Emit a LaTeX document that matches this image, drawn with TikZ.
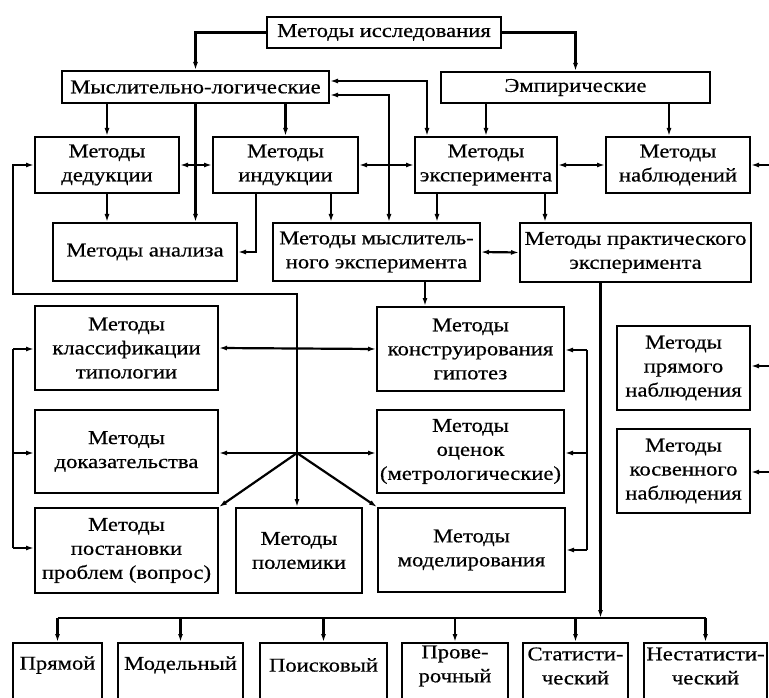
\documentclass[tikz,border=0pt]{standalone}
\usepackage{fontspec}
\setmainfont{Liberation Serif}[FakeStretch=1.16,FakeBold=0.5]
\usetikzlibrary{arrows.meta}
\newcommand\mybox[6]{\node[box, minimum width={(#4-#2)*1pt}, minimum height={(#5-#3)*1pt}] (#1) at ({(#2+#4)/2},{(#3+#5)/2}) {#6};}
\begin{document}
\begin{tikzpicture}[x=1pt,y=-1pt,
 box/.style={draw, line width=2pt, inner sep=0pt, align=center, font=\fontsize{19.5pt}{24pt}\selectfont},
 tx/.style={inner sep=0pt, align=center, font=\fontsize{19.5pt}{24pt}\selectfont},
 arr/.style={line width=2.2pt, -{Latex[length=8pt,width=5pt]}},
 dbl/.style={line width=2.2pt, {Latex[length=8pt,width=5pt]}-{Latex[length=8pt,width=5pt]}},
 ln/.style={line width=2.2pt}]
\useasboundingbox (0,0) rectangle (769,698);
\clip (0,0) rectangle (769,698);
\fill[white] (0,0) rectangle (769,698);
% boxes
\mybox{top}{267}{17}{501}{48}{Методы исследования}
\mybox{ml}{62}{71}{329}{103}{Мыслительно-логические}
\mybox{emp}{441}{72}{710}{103}{Эмпирические}
\mybox{ded}{35}{137}{179}{193}{Методы\\дедукции}
\mybox{ind}{213}{137}{358}{193}{Методы\\индукции}
\mybox{exp}{415}{137}{557}{193}{Методы\\эксперимента}
\mybox{nab}{606}{137}{750}{193}{Методы\\наблюдений}
\mybox{an}{53}{223}{237}{281}{Методы анализа}
\mybox{mys}{273}{223}{480}{281}{Методы мыслитель-\\ного эксперимента}
\mybox{pr}{520}{223}{751}{282}{Методы практического\\эксперимента}
\mybox{cls}{35}{306}{218}{390}{Методы\\классификации\\типологии}
\mybox{dok}{35}{410}{218}{493}{Методы\\доказательства}
\mybox{pos}{35}{508}{218}{593}{Методы\\постановки\\проблем (вопрос)}
\mybox{pol}{236}{508}{362}{593}{Методы\\полемики}
\mybox{kon}{377}{307}{564}{391}{Методы\\конструирования\\гипотез}
\mybox{oc}{377}{410}{564}{493}{Методы\\оценок\\(метрологические)}
\mybox{mod}{378}{508}{565}{592}{Методы\\моделирования}
\mybox{pn}{617}{326}{750}{410}{Методы\\прямого\\наблюдения}
\mybox{kn}{617}{429}{750}{513}{Методы\\косвенного\\наблюдения}
\mybox{b1}{13}{643}{102}{712}{}
\mybox{b2}{118}{643}{243}{712}{}
\mybox{b3}{260}{643}{387}{712}{}
\mybox{b4}{402}{643}{508}{712}{}
\mybox{b5}{523}{643}{628}{712}{}
\mybox{b6}{644}{643}{767}{712}{}
\path (b1.north) ++(0,23) node[tx] (t1) {Прямой};
\path (b2.north) ++(0,23) node[tx] (t2) {Модельный};
\path (b3.north) ++(0,23) node[tx] (t3) {Поисковый};
\path (b4.north) ++(0,24) node[tx] (t4) {Прове-\\рочный};
\path (b5.north) ++(0,24) node[tx] (t5) {Статисти-\\ческий};
\path (b6.north) ++(0,24) node[tx] (t6) {Нестатисти-\\ческий};
% connectors
\draw[arr] (top.west) -| (ml.north);
\draw[arr] (top.east) -| (emp.north);
\draw[arr] (ml.south -| ded.north) -- (ded.north);
\draw[arr] (ml.south -| ind.north) -- (ind.north);
\draw[arr] (ml.south) -- (ml.south |- an.north);
\draw[arr] (emp.south -| exp.north) -- (exp.north);
\draw[arr] ([xshift=-9pt]nab.north |- emp.south) -- ([xshift=-9pt]nab.north);
\draw[dbl] ([yshift=6pt]ml.east) -| ([xshift=-59pt]exp.north);
\draw[dbl] ([yshift=-8pt]ml.east) -| ([xshift=12.5pt]mys.north);
\draw[dbl] (ded.east) -- (ind.west);
\draw[dbl] (ind.east) -- (exp.west);
\draw[dbl] (exp.east) -- (nab.west);
\coordinate (e1) at (769,165);
\draw[arr] (e1) -- (nab.east);
\draw[arr] (ded.south) -- (ded.south |- an.north);
\draw[arr] ([xshift=-29.5pt]ind.south) |- (an.east);
\draw[arr] ([xshift=45.5pt]ind.south) -- ([xshift=45.5pt]ind.south |- mys.north);
\draw[arr] ([xshift=-49pt]exp.south) -- ([xshift=-49pt]exp.south |- mys.north);
\draw[arr] ([xshift=59pt]exp.south) -- ([xshift=59pt]exp.south |- pr.north);
\draw[dbl] (mys.east) -- (pr.west);
\draw[arr] ([xshift=48.5pt]mys.south) -- ([xshift=48.5pt]mys.south |- kon.north);
\coordinate (hub) at (297,453);
\coordinate (lp) at (13,294);
\draw[arr] (hub) -- (hub |- lp) -- (lp) |- (ded.west);
\draw[arr] (hub) -- (hub |- pol.north);
\draw[arr] (hub) -- (pos.north east);
\draw[arr] (hub) -- (mod.north west);
\draw[dbl] (dok.east |- hub) -- (oc.west |- hub);
\draw[dbl] (cls.east) -- (kon.west);
\coordinate (L1) at (13,349);
\coordinate (L3) at (13,548);
\draw[ln] (L1) -- (L3);
\draw[arr] (L1) -- (cls.west |- L1);
\draw[arr] (L1 |- hub) -- (dok.west |- hub);
\draw[arr] (L3) -- (pos.west |- L3);
\coordinate (R1) at (587,350);
\coordinate (R3) at (587,550);
\draw[ln] (R1) -- (R3);
\draw[arr] (R1) -- (kon.east |- R1);
\draw[arr] (R1 |- hub) -- (oc.east |- hub);
\draw[arr] (R3) -- (mod.east |- R3);
\coordinate (e2) at (769,366);
\coordinate (e3) at (769,472);
\draw[arr] (e2) -- (pn.east |- e2);
\draw[arr] (e3) -- (kn.east |- e3);
\coordinate (bl) at (59,618);
\draw[arr] ([xshift=-35pt]pr.south) -- ([xshift=-35pt]pr.south |- bl);
\draw[ln] (b1.north |- bl) -- (b6.north |- bl);
\foreach \i in {1,...,6} \draw[arr] (b\i.north |- bl) -- (b\i.north);
\end{tikzpicture}
\end{document}
